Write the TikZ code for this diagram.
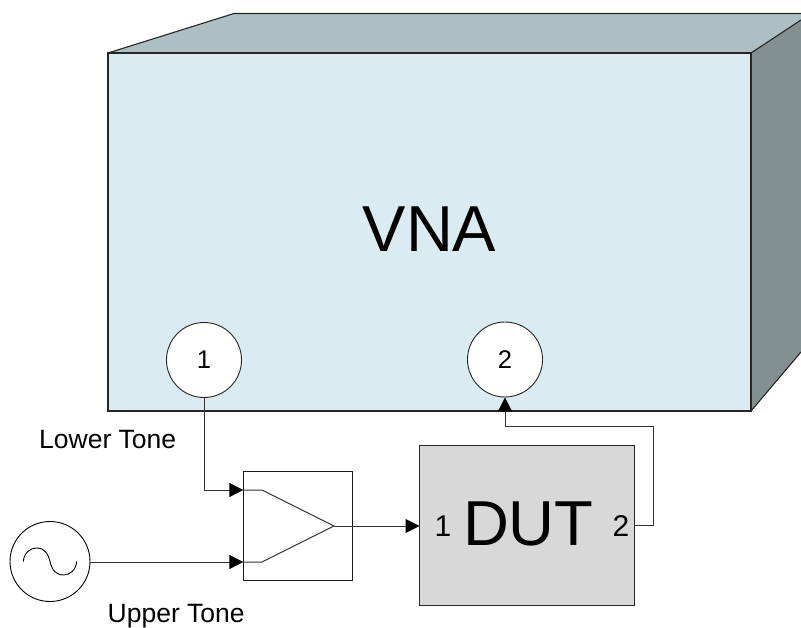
\documentclass[tikz,border=0pt]{standalone}
\usepackage{fontspec}
\setmainfont{Liberation Sans}
\usetikzlibrary{arrows.meta}
\definecolor{vnafront}{HTML}{DAECF2}
\definecolor{vnatop}{HTML}{AEBFC4}
\definecolor{vnaside}{HTML}{829090}
\definecolor{dutgray}{HTML}{D8D8D8}
\tikzset{
  x=1pt,y=-1pt,
  face/.style={draw=black!85,line width=1.1pt,line join=miter},
  port/.style={circle,draw=black!85,fill=white,line width=0.9pt,minimum size=75pt,inner sep=0pt,font=\fontsize{25.5}{28}\selectfont},
  wire/.style={draw=black!80,line width=1pt},
  tip/.style={-{Triangle[length=14pt,width=14pt,black]}},
  lbl/.style={inner sep=0pt,font=\fontsize{26.5}{28}\selectfont},
  dutnum/.style={inner sep=0pt,anchor=base,font=\fontsize{30}{32}\selectfont}
}
\begin{document}
\begin{tikzpicture}
\useasboundingbox (0,0) rectangle (801,628);
% VNA box
\fill[vnatop] (108,53) -- (234,13.5) -- (801,13.5) -- (801,20) -- (751,53) -- cycle;
\fill[vnaside] (751,53) -- (801,20) -- (801,352) -- (751,411) -- cycle;
\draw[face,fill=vnafront] (108,53) rectangle (751,411);
\draw[face] (108,53) -- (234,13.5) -- (801,13.5);
\draw[face] (751,53) -- (801,20);
\draw[face] (751,411) -- (801,352);
\node[inner sep=0pt,anchor=base,font=\fontsize{65}{68}\selectfont] (vna) at (429.5,251.7) {VNA};
% ports
\node[port] (p1) at (204,360) {1};
\node[port] (p2) at (505,359.5) {2};
% DUT
\node[draw=black!85,fill=dutgray,line width=1pt,minimum width=214.5pt,minimum height=160pt,inner sep=0pt,outer sep=0pt] (dut) at (526.75,525) {};
\node[inner sep=0pt,anchor=base,font=\fontsize{63.5}{68}\selectfont] (dutlabel) at (528.3,545) {DUT};
\node[dutnum] (d1) at (443,536) {1};
\node[dutnum] (d2) at (621,536) {2};
% combiner
\node[draw=black!90,line width=0.9pt,minimum width=109pt,minimum height=109pt,inner sep=0pt,outer sep=0pt] (comb) at (297.8,525.5) {};
\coordinate (cin1) at (243.3,490);
\coordinate (cin2) at (243.3,562);
\coordinate (t1) at (262,490);
\coordinate (t2) at (262,562);
\coordinate (tout) at (334,526);
\draw[wire] (cin1) -- (t1) -- (tout) -- (t2) -- (cin2);
\coordinate (cout) at (352.3,526);
\draw[wire] (tout) -- (cout);
% source
\node[circle,draw=black,line width=0.9pt,minimum size=80pt,inner sep=0pt] (src) at (50,561.5) {};
\draw[line width=0.9pt] (23.3,561.5) .. controls (24,553) and (30,548) .. (36.5,548)
  .. controls (44,548) and (48,553) .. (50,561.5)
  .. controls (52,570) and (56,575) .. (63.5,575)
  .. controls (70,575) and (76,570) .. (76.7,561.5);
% wires
\draw[wire,tip] (p1.south) |- (cin1);
\draw[wire,tip] (src.east |- cin2) -- (cin2);
\draw[wire,tip] (tout) -- (tout -| dut.west);
\coordinate (bend) at (653,426.5);
\coordinate (dutout) at (634,525.7);
\draw[wire,tip] (dutout) -- (dutout -| bend) -- (bend) -- (bend -| p2) -- (p2.south);
% labels
\node[lbl,anchor=base west] (lower) at (39,448.5) {Lower Tone};
\node[lbl,anchor=base west] (upper) at (107.5,622.3) {Upper Tone};
\end{tikzpicture}
\end{document}
